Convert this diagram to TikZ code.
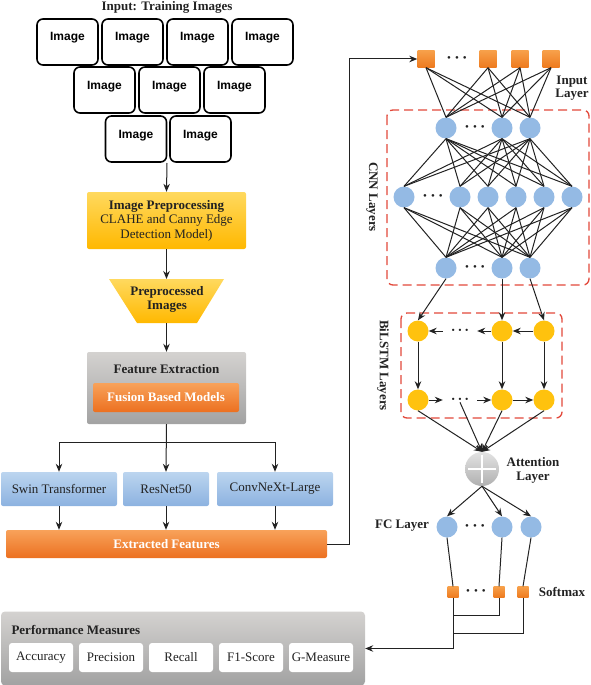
\documentclass[tikz,border=0pt]{standalone}
\usepackage{fontspec}
\setmainfont{Liberation Serif}
\setsansfont{Liberation Sans}
\usetikzlibrary{arrows.meta,calc}
\definecolor{goldT}{HTML}{FFD95E}
\definecolor{goldB}{HTML}{FFB800}
\definecolor{orT}{HTML}{F8A25A}
\definecolor{orB}{HTML}{EC7020}
\definecolor{grT}{HTML}{D4D2D0}
\definecolor{grB}{HTML}{A2A2A2}
\definecolor{blT}{HTML}{BCD5EF}
\definecolor{blB}{HTML}{8CB2E0}
\definecolor{circB}{HTML}{94BAE4}
\definecolor{yel}{HTML}{FFC20E}
\definecolor{sqT}{HTML}{F7A04A}
\definecolor{sqB}{HTML}{EE7A1E}
\definecolor{dashred}{HTML}{E2483A}
\definecolor{ink}{HTML}{222222}
\tikzset{
  bf/.style={font=\bfseries\fontsize{13}{14.5}\selectfont},
  rg/.style={font=\fontsize{13}{14.5}\selectfont},
  arr/.style={draw=ink, line width=1pt, -{Stealth[length=8pt,width=6.5pt]}},
  net/.style={draw=ink, line width=1pt},
  imgbox/.style={draw=black, line width=1.6pt, rounded corners=6pt, minimum width=61pt,
    inner sep=0pt, text height=22pt, text depth=24pt, font=\sffamily\bfseries\fontsize{12}{12}\selectfont},
  box/.style={rectangle, rounded corners=2pt, inner sep=0pt, draw=none, text=ink},
  bbox/.style={box, top color=blT, bottom color=blB, minimum height=34pt, rg},
  wbox/.style={box, fill=white, rounded corners=3pt, minimum width=64pt, minimum height=29pt, rg},
  bc/.style={circle, fill=circB, minimum size=21pt, inner sep=0pt},
  yc/.style={circle, fill=yel, minimum size=21pt, inner sep=0pt},
  sqn/.style={rectangle, top color=sqT, bottom color=sqB, minimum size=17pt, inner sep=0pt},
  smsq/.style={rectangle, top color=sqT, bottom color=sqB, minimum size=11pt, inner sep=0pt},
  dotsn/.style={inner sep=0pt, text=ink, font=\fontsize{11}{11}\selectfont},
  sdots/.style={inner sep=0pt, text=ink, minimum width=34pt, font=\fontsize{9.5}{9.5}\selectfont},
  dashbox/.style={draw=dashred, line width=1.3pt, dash pattern=on 9pt off 5pt, rounded corners=6pt},
}
\newcommand{\tdots}{\textbullet\hspace{4pt}\textbullet\hspace{4pt}\textbullet}
\newcommand{\sdotstxt}{\textbullet\hspace{3.5pt}\textbullet\hspace{3.5pt}\textbullet}
\begin{document}
\begin{tikzpicture}[x=1pt,y=-1pt]
\useasboundingbox (0,0) rectangle (591,685);

% ---------- left column ----------
\node[bf, text=ink] (title) at (167,7) {Input: Training Images};
\node[imgbox] (im1) at (67.5,42) {Image};
\node[imgbox] (im2) at (132.5,42) {Image};
\node[imgbox] (im3) at (197.5,42) {Image};
\node[imgbox] (im4) at (262.5,42) {Image};
\node[imgbox] (im5) at (104.5,90) {Image};
\node[imgbox] (im6) at (169.5,90) {Image};
\node[imgbox] (im7) at (234.5,90) {Image};
\node[imgbox] (im8) at (136,139) {Image};
\node[imgbox] (im9) at (200.5,139) {Image};
\coordinate (imbot) at (167,163);

\node[box, top color=goldT, bottom color=goldB, minimum width=159pt, minimum height=57pt,
      align=center, rg] (prep) at (166.5,220.5)
      {\textbf{Image Preprocessing}\\CLAHE and Canny Edge\\Detection Model)};
\draw[arr] (imbot) -- (prep.north);

\shade[top color=goldT, bottom color=goldB] (109,279) -- (224,279) -- (197,323) -- (137,323) -- cycle;
\coordinate (ptop) at (166.5,279);
\coordinate (pbot) at (166.5,323);
\node[bf, align=center, text=ink] (ppi) at (167,299.5) {Preprocessed\\Images};
\draw[arr] (prep.south) -- (ptop);

\node[box, top color=grT, bottom color=grB, minimum width=159pt, minimum height=72pt] (fe) at (166.5,388) {};
\node[bf, text=ink] (fet) at (166.5,369) {Feature Extraction};
\node[box, top color=orT, bottom color=orB, minimum width=146pt, minimum height=29pt, bf, text=white] (fu) at (166,397.5) {Fusion Based Models};
\draw[arr] (pbot) -- (fe.north);

\node[bbox, minimum width=116pt] (sw) at (59,489) {Swin Transformer};
\node[bbox, minimum width=86pt] (rn) at (166,489) {ResNet50};
\node[bbox, minimum width=116pt] (cx) at (275,489) {ConvNeXt-Large};
\coordinate (br) at (166,442);
\draw[arr] (fe.south) -- (rn.north);
\draw[arr] (br) -| (sw.north);
\draw[arr] (br) -| (cx.north);

\node[box, top color=orT, bottom color=orB, minimum width=321pt, minimum height=28pt, bf, text=white] (ef) at (166.5,544) {Extracted Features};
\draw[arr] (sw.south) -- (sw.south |- ef.north);
\draw[arr] (rn.south) -- (rn.south |- ef.north);
\draw[arr] (cx.south) -- (cx.south |- ef.north);

\node[box, top color=grT, bottom color=grB, minimum width=364pt, minimum height=74pt, rounded corners=4pt] (perf) at (183,648.5) {};
\node[bf, anchor=west, text=ink] (pmt) at (8,630) {Performance Measures};
\node[wbox] (m1) at (41,657.5) {Accuracy};
\node[wbox] (m2) at (111,657.5) {Precision};
\node[wbox] (m3) at (181,657.5) {Recall};
\node[wbox] (m4) at (251,657.5) {F1-Score};
\node[wbox] (m5) at (321,657.5) {G-Measure};

% ---------- right column ----------
\draw[dashbox] (387,110) rectangle (589,285);
\draw[dashbox] (401,313) rectangle (562,418);

\node[sqn] (in0) at (426,59) {};
\node[sqn] (in1) at (488,59) {};
\node[sqn] (in2) at (520,59) {};
\node[sqn] (in3) at (551,59) {};
\node[dotsn] (ind) at (457,59) {\tdots};
\node[bf, align=center, text=ink, font=\bfseries\fontsize{13}{13}\selectfont] (inl) at (572,88) {Input\\Layer};

\node[bc] (c11) at (446,128) {};
\node[bc] (c12) at (502,128) {};
\node[bc] (c13) at (530,128) {};
\node[dotsn] (c1d) at (475,128) {\tdots};

\node[bc] (c21) at (404,197) {};
\node[bc] (c22) at (460,197) {};
\node[bc] (c23) at (488,197) {};
\node[bc] (c24) at (516,197) {};
\node[bc] (c25) at (544,197) {};
\node[bc] (c26) at (572,197) {};
\node[dotsn] (c2d) at (433,197) {\tdots};

\node[bc] (c31) at (446,268) {};
\node[bc] (c32) at (502,268) {};
\node[bc] (c33) at (530,268) {};
\node[dotsn] (c3d) at (475,268) {\tdots};

\node[bf, text=ink, rotate=-90] (cnnl) at (372,197) {CNN Layers};

\foreach \i in {0,...,3}
  \foreach \j in {1,2,3}
    \draw[net] (in\i.south) -- (c1\j.north);
\foreach \i in {1,2,3}
  \foreach \j in {1,...,6}
    \draw[net] (c1\i.south) -- (c2\j.north);
\foreach \i in {1,...,6}
  \foreach \j in {1,2,3}
    \draw[net] (c2\i.south) -- (c3\j.north);

\draw[arr] (ef.east) -- ++(22,0) |- (in0.west);

% BiLSTM
\node[yc] (lt1) at (418,331) {};
\node[yc] (lt2) at (502,331) {};
\node[yc] (lt3) at (544,331) {};
\node[sdots] (ltd) at (460,331) {\sdotstxt};
\node[yc] (lb1) at (418,400) {};
\node[yc] (lb2) at (502,400) {};
\node[yc] (lb3) at (544,400) {};
\node[sdots] (lbd) at (460,400) {\sdotstxt};
\node[bf, text=ink, rotate=-90] (lstml) at (383,365.5) {BiLSTM Layers};

\draw[arr] (c31.south) -- (lt1.north);
\draw[arr] (c32.south) -- (lt2.north);
\draw[arr] (c33.south) -- (lt3.north);
\draw[arr] (lt3.west) -- (lt2.east);
\draw[arr] (lt2.west) -- (ltd.east);
\draw[arr] (ltd.west) -- (lt1.east);
\draw[arr] (lb1.east) -- (lbd.west);
\draw[arr] (lbd.east) -- (lb2.west);
\draw[arr] (lb2.east) -- (lb3.west);
\draw[arr] (lt1.south) -- (lb1.north);
\draw[arr] (lt2.south) -- (lb2.north);
\draw[arr] (lt3.south) -- (lb3.north);

% Attention
\node[circle, minimum size=34pt, inner sep=0pt, top color=gray!22, bottom color=gray!62] (att) at (482,469) {};
\draw[white, line width=2pt] ($(att.west)+(3,0)$) -- ($(att.east)+(-3,0)$);
\draw[white, line width=2pt] ($(att.north)+(0,3)$) -- ($(att.south)+(0,-3)$);
\node[bf, align=center, text=ink, font=\bfseries\fontsize{13}{14}\selectfont] (attl) at (533,470) {Attention\\Layer};
\draw[arr] (lb1.south) -- (att.north);
\draw[arr] (lbd.south) -- (att.north);
\draw[arr] (lb2.south) -- (att.north);
\draw[arr] (lb3.south) -- (att.north);

% FC
\node[bc] (fc1) at (447,527) {};
\node[bc] (fc2) at (502,527) {};
\node[bc] (fc3) at (531,527) {};
\node[dotsn] (fcd) at (475,527) {\tdots};
\node[bf, text=ink] (fcl) at (402,526) {FC Layer};
\draw[arr] (att.south) -- (fc1.north);
\draw[arr] (att.south) -- (fc2.north);
\draw[arr] (att.south) -- (fc3.north);

% Softmax
\node[smsq] (sm1) at (453,592) {};
\node[smsq] (sm2) at (499,592) {};
\node[smsq] (sm3) at (523,592) {};
\node[dotsn] (smd) at (476,592) {\tdots};
\node[bf, text=ink] (sml) at (562,592) {Softmax};
\draw[net] (fc1.south) -- (sm1.north);
\draw[net] (fc2.south) -- (sm2.north);
\draw[net] (fc3.south) -- (sm3.north);

\coordinate (j1) at (453,615);
\coordinate (j2) at (453,633);
\draw[net] (sm2.south) |- (j1);
\draw[net] (sm3.south) |- (j2);
\draw[arr] (sm1.south) |- (perf.east);
\end{tikzpicture}
\end{document}
